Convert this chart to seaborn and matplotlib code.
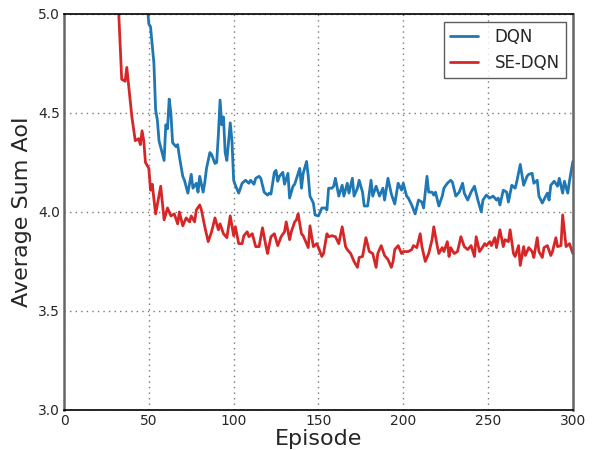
import matplotlib
matplotlib.use("Agg")
import matplotlib.pyplot as plt
import seaborn as sns
import pandas as pd

# DQN curve (episode, average sum AoI)
dqn_ep = [0, 30, 45, 49, 50, 51, 53, 54, 55, 56, 59, 60, 61, 62, 63, 64, 66, 67, 68, 70,
          71, 73, 75, 76, 78, 79, 80, 82, 83, 84, 86, 87, 89, 90, 91, 92, 93, 94, 95, 96,
          98, 99, 100, 101, 103, 105, 107, 109, 110, 112, 113, 115, 116, 118, 120, 121, 122, 124, 125, 126,
          127, 129, 130, 132, 133, 135, 136, 139, 140, 141, 143, 144, 145, 147, 148, 150, 152, 154, 155, 156,
          158, 159, 160, 162, 164, 165, 167, 168, 170, 171, 173, 174, 176, 177, 179, 181, 182, 184, 186, 188,
          189, 191, 193, 195, 197, 199, 200, 202, 203, 205, 207, 209, 211, 212, 214, 215, 217, 218, 219, 221,
          223, 224, 226, 228, 229, 231, 233, 235, 236, 238, 240, 242, 244, 245, 246, 247, 249, 251, 253, 255,
          256, 257, 259, 261, 262, 264, 266, 267, 269, 271, 273, 274, 276, 277, 279, 280, 282, 284, 285, 286,
          287, 289, 291, 292, 294, 295, 297, 298, 300]
dqn_val = [8.0, 6.5, 5.6, 5.05, 4.95, 4.935, 4.75, 4.515, 4.465, 4.36, 4.26, 4.44, 4.42, 4.57, 4.50, 4.35, 4.33, 4.34, 4.28, 4.18,
           4.16, 4.095, 4.19, 4.12, 4.145, 4.10, 4.18, 4.10, 4.15, 4.22, 4.30, 4.29, 4.245, 4.25, 4.39, 4.565, 4.44, 4.48, 4.30, 4.26,
           4.45, 4.36, 4.16, 4.135, 4.095, 4.145, 4.16, 4.145, 4.16, 4.14, 4.17, 4.18, 4.17, 4.10, 4.085, 4.095, 4.09, 4.20, 4.21, 4.155,
           4.18, 4.20, 4.14, 4.195, 4.07, 4.13, 4.14, 4.22, 4.12, 4.195, 4.255, 4.18, 4.08, 4.045, 3.985, 3.98, 4.02, 4.02, 4.01, 4.12,
           4.12, 4.13, 4.17, 4.08, 4.135, 4.08, 4.145, 4.095, 4.17, 4.08, 4.12, 4.16, 4.10, 4.03, 4.03, 4.16, 4.08, 4.13, 4.08, 4.12,
           4.06, 4.17, 4.09, 4.04, 4.145, 4.11, 4.145, 4.08, 4.07, 4.035, 3.99, 4.06, 4.05, 4.02, 4.18, 4.10, 4.10, 4.085, 4.10, 4.03,
           4.08, 4.12, 4.145, 4.16, 4.15, 4.08, 4.10, 4.145, 4.095, 4.06, 4.10, 4.13, 4.06, 4.03, 4.00, 4.06, 4.085, 4.07, 4.08, 4.06,
           4.07, 4.035, 4.11, 4.10, 4.05, 4.135, 4.12, 4.155, 4.24, 4.135, 4.18, 4.19, 4.195, 4.145, 4.16, 4.08, 4.045, 4.08, 4.095, 4.06,
           4.135, 4.155, 4.13, 4.17, 4.095, 4.155, 4.095, 4.155, 4.255]

# SE-DQN curve (episode, average sum AoI)
se_ep = [0, 20, 30, 32, 34, 36, 37, 40, 42, 44, 45, 46, 47, 48, 50, 51, 52, 54, 57, 59,
         61, 63, 65, 67, 68, 70, 72, 74, 75, 77, 78, 80, 81, 83, 85, 87, 89, 91, 92, 94,
         96, 98, 100, 101, 103, 105, 106, 108, 109, 111, 113, 115, 117, 119, 120, 122, 124, 126, 128, 130,
         131, 133, 134, 136, 137, 138, 140, 141, 144, 145, 147, 149, 150, 152, 153, 155, 156, 158, 160, 162,
         164, 166, 167, 169, 171, 173, 174, 176, 178, 180, 182, 184, 185, 187, 189, 191, 193, 194, 195, 197,
         199, 200, 203, 205, 206, 208, 210, 211, 213, 215, 217, 218, 220, 221, 223, 224, 226, 227, 228, 230,
         232, 234, 236, 238, 240, 242, 243, 245, 247, 248, 249, 251, 252, 254, 255, 257, 259, 260, 262, 263,
         265, 266, 268, 269, 271, 272, 274, 276, 277, 279, 280, 282, 283, 285, 287, 288, 290, 291, 293, 294,
         296, 298, 300]
se_val = [7.0, 6.0, 5.4, 5.05, 4.67, 4.66, 4.73, 4.48, 4.36, 4.37, 4.34, 4.41, 4.36, 4.25, 4.22, 4.11, 4.14, 3.99, 4.13, 3.96,
          4.02, 3.98, 3.99, 3.94, 4.00, 3.93, 3.97, 3.95, 3.98, 3.95, 4.01, 4.035, 4.01, 3.925, 3.85, 3.90, 3.97, 3.91, 3.94, 3.89,
          3.87, 3.98, 3.88, 3.925, 3.84, 3.84, 3.88, 3.90, 3.875, 3.89, 3.825, 3.825, 3.92, 3.83, 3.79, 3.875, 3.89, 3.83, 3.875, 3.90,
          3.95, 3.86, 3.90, 3.95, 3.96, 3.99, 3.89, 3.88, 3.82, 3.93, 3.825, 3.84, 3.82, 3.775, 3.79, 3.89, 3.875, 3.88, 3.875, 3.84,
          3.925, 3.825, 3.81, 3.79, 3.75, 3.72, 3.77, 3.775, 3.87, 3.80, 3.79, 3.72, 3.79, 3.83, 3.78, 3.76, 3.72, 3.75, 3.81, 3.83,
          3.79, 3.80, 3.80, 3.81, 3.83, 3.82, 3.89, 3.825, 3.75, 3.79, 3.86, 3.925, 3.83, 3.79, 3.82, 3.80, 3.85, 3.775, 3.82, 3.79,
          3.80, 3.875, 3.825, 3.81, 3.83, 3.775, 3.875, 3.80, 3.825, 3.84, 3.83, 3.85, 3.83, 3.87, 3.82, 3.91, 3.825, 3.86, 3.85, 3.91,
          3.79, 3.775, 3.83, 3.73, 3.825, 3.78, 3.82, 3.80, 3.77, 3.87, 3.80, 3.77, 3.82, 3.83, 3.78, 3.80, 3.87, 3.825, 3.83, 3.985,
          3.825, 3.84, 3.79]

x_ticks = [0, 50, 100, 150, 200, 250, 300]
y_ticks = [3.0, 3.5, 4.0, 4.5, 5.0]

df = pd.concat([
    pd.DataFrame({"Episode": dqn_ep, "AoI": dqn_val, "Method": "DQN"}),
    pd.DataFrame({"Episode": se_ep, "AoI": se_val, "Method": "SE-DQN"}),
])

sns.set_style("white")
plt.rcParams["font.family"] = ["DejaVu Sans"]

fig = plt.figure(figsize=(5.93, 4.5), dpi=100)
ax = fig.add_axes([0.108, 0.089, 0.858, 0.880])

sns.lineplot(data=df, x="Episode", y="AoI", hue="Method",
             palette={"DQN": "#1f77b4", "SE-DQN": "#d62728"},
             linewidth=2, ax=ax, estimator=None, sort=False)

ax.set_xlim(0, 300)
ax.set_ylim(3.0, 5.0)
ax.set_xticks(x_ticks)
ax.set_yticks(y_ticks)
ax.set_xticklabels([str(t) for t in x_ticks], fontsize=10)
ax.set_yticklabels([f"{t:.1f}" for t in y_ticks], fontsize=10)
ax.tick_params(length=0, pad=3)
ax.grid(True, linestyle=(0, (1, 3)), color="#777777", linewidth=1)
ax.set_xlabel("Episode", fontsize=16, labelpad=0.5)
ax.set_ylabel("Average Sum AoI", fontsize=16, labelpad=4)

for side in ["top", "bottom"]:
    ax.spines[side].set_color("black")
    ax.spines[side].set_linewidth(1.2)
for side in ["left", "right"]:
    ax.spines[side].set_color("#666666")
    ax.spines[side].set_linewidth(1.8)

leg = ax.legend(loc="upper right", fontsize=12, frameon=True, fancybox=False,
                borderpad=0.35, handlelength=1.7, handletextpad=1.0,
                borderaxespad=0.0, bbox_to_anchor=(0.986, 0.98))
leg.get_frame().set_edgecolor("#333333")
leg.get_frame().set_linewidth(1.0)
for line in leg.get_lines():
    line.set_linewidth(2)

fig.savefig("out.png", dpi=100)
